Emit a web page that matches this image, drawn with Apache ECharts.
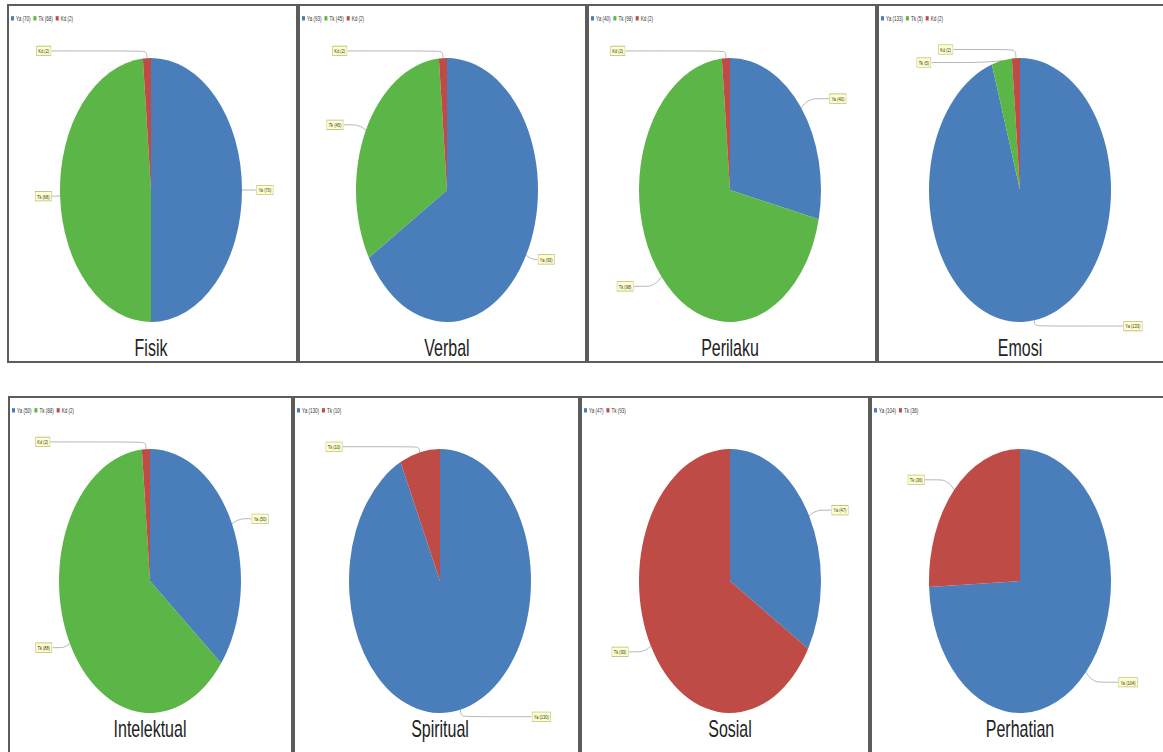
<!DOCTYPE html>
<html><head><meta charset="utf-8">
<script src="https://cdn.jsdelivr.net/npm/echarts@6/dist/echarts.min.js"></script>
<style>
html,body{margin:0;padding:0;background:#fff;width:1163px;height:752px;overflow:hidden;position:relative;}
.panel{position:absolute;box-sizing:border-box;border:2px solid #5c5c5c;background:#fff;overflow:hidden;}
.chart{position:absolute;left:0;top:0;transform-origin:0 0;}
</style></head><body>
<script>
// ---- data ----
const chartTitles = ['Fisik','Verbal','Perilaku','Emosi','Intelektual','Spiritual','Sosial','Perhatian'];
const namesThree = ['Ya','Tk','Kd'];
const namesTwo = ['Ya','Tk'];
const valFisik = [70, 68, 2];
const valVerbal = [93, 45, 2];
const valPerilaku = [40, 98, 2];
const valEmosi = [133, 5, 2];
const valIntelektual = [50, 88, 2];
const valSpiritual = [130, 10];
const valSosial = [47, 93];
const valPerhatian = [104, 36];
const seriesValues = [valFisik, valVerbal, valPerilaku, valEmosi, valIntelektual, valSpiritual, valSosial, valPerhatian];

// ---- styles / layout ----
const colorsThree = ['#4a7ebb', '#5bb647', '#be4b45'];
const colorsTwo = ['#4a7ebb', '#be4b45'];
const S = 1.45; // vertical stretch of the original picture
const panelBoxes = [
  [7,4,291,359],[298,4,289,359],[587,4,290,359],[877,4,290,359],
  [8,396,285,372],[293,396,287,372],[580,396,290,372],[870,396,295,372]
];
const pieCenters = [[151,190],[447,190],[730,190],[1020,190],[150,581],[440,581],[730,581],[1020,581]];
const titleCenterY = [348,348,348,348,729,729,729,729];
const lineLens = [
  [[6,8],[4,4],[5,95]],
  [[6,6],[8,15],[5,95]],
  [[10,20],[10,20],[5,100]],
  [[4,88],[2,50],[6,62]],
  [[8,12],[6,12],[5,95]],
  [[5,70],[4,76]],
  [[8,15],[8,15]],
  [[10,25],[10,22]]
];

chartTitles.forEach((title, i) => {
  const [px, py, pw, ph] = panelBoxes[i];
  const panel = document.createElement('div');
  panel.className = 'panel';
  panel.style.left = px + 'px'; panel.style.top = py + 'px';
  panel.style.width = pw + 'px'; panel.style.height = ph + 'px';
  document.body.appendChild(panel);
  const cw = pw - 4, chh = (ph - 4) / S;
  const div = document.createElement('div');
  div.className = 'chart';
  div.style.width = cw + 'px'; div.style.height = chh + 'px';
  div.style.transform = 'scaleY(' + S + ')';
  panel.appendChild(div);

  const vals = seriesValues[i];
  const names = vals.length === 3 ? namesThree : namesTwo;
  const colors = vals.length === 3 ? colorsThree : colorsTwo;
  const data = vals.map((v, k) => ({
    name: names[k] + ' (' + v + ')',
    value: v,
    itemStyle: { color: colors[k] },
    labelLine: { length: lineLens[i][k][0], length2: lineLens[i][k][1] }
  }));
  const cx = pieCenters[i][0] - (px + 2);
  const cy = (pieCenters[i][1] - (py + 2)) / S;
  const ty = (titleCenterY[i] - (py + 2)) / S;
  const fs = 16;

  const chart = echarts.init(div, null, { renderer: 'svg', width: cw, height: chh });
  chart.setOption({
    animation: false,
    title: {
      text: title, left: cx, top: ty - fs / 2, textAlign: 'center', padding: 0,
      textStyle: { fontFamily: 'Liberation Sans', fontSize: fs, lineHeight: fs, fontWeight: 'normal', color: '#222' }
    },
    legend: {
      left: 2, top: 6, padding: 0, icon: 'rect', itemWidth: 3, itemHeight: 3, itemGap: 3,
      textStyle: { fontSize: 4.5, color: '#333', fontFamily: 'Liberation Sans', padding: [0,0,0,-3] },
      data: data.map(d => d.name)
    },
    series: [{
      type: 'pie',
      center: [cx, cy],
      radius: 91,
      startAngle: 90,
      clockwise: true,
      minShowLabelAngle: 0,
      itemStyle: { borderWidth: 0 },
      label: {
        show: true, position: 'outside', formatter: '{b}',
        fontSize: 4, lineHeight: 5, color: '#333', fontFamily: 'Liberation Sans',
        backgroundColor: '#ffffcc', borderColor: '#b8b87a', borderWidth: 0.5,
        padding: [0.5, 1.5], distanceToLabelLine: 1
      },
      labelLine: { show: true, smooth: 0.4, lineStyle: { color: '#9a9a9a', width: 0.6 } },
      emphasis: { disabled: true },
      data: data
    }]
  });
});
</script>
</body></html>
